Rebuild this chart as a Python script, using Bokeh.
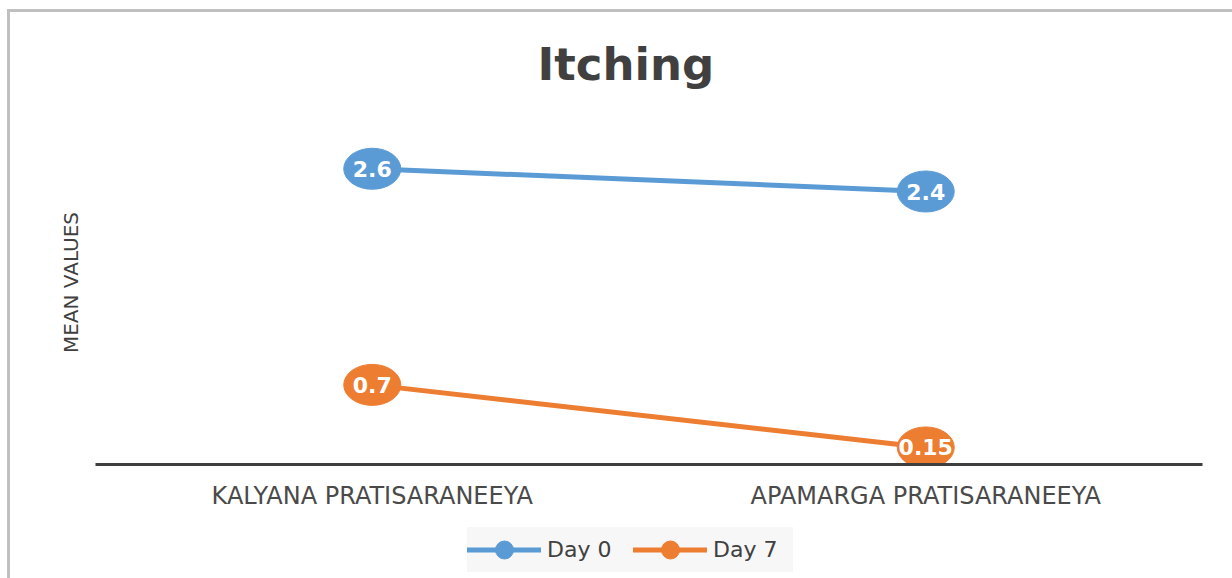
from bokeh.plotting import figure
from bokeh.layouts import column
from bokeh.models import (Range1d, FactorRange, Legend, LegendItem, ColumnDataSource,
                          Title, FixedTicker)
from bokeh.core.properties import value
from bokeh.embed import file_html
from bokeh.resources import INLINE

categories = ["KALYANA PRATISARANEEYA", "APAMARGA PRATISARANEEYA"]
day0 = [2.6, 2.4]
day7 = [0.7, 0.15]
series_names = ["Day 0", "Day 7"]
series_values = [day0, day7]
colors = ["#5B9BD5", "#ED7D31"]

xr = FactorRange(*categories)
p = figure(width=1222, height=512, x_range=xr, y_range=Range1d(0, 3.2),
           output_backend="svg", toolbar_location=None,
           min_border_left=85, min_border_right=30,
           min_border_bottom=60, min_border_top=88)

p.title = Title(text="Itching", align="left", text_font="DejaVu Sans",
                text_font_size="45px", text_font_style="bold", text_color="#404040",
                offset=442, standoff=20)

p.grid.visible = False
p.outline_line_color = None
p.background_fill_color = "white"
p.border_fill_color = "white"

# x axis
p.xaxis.axis_line_color = "#3f3f3f"
p.xaxis.axis_line_width = 3
p.xaxis.major_tick_line_color = None
p.xaxis.minor_tick_line_color = None
p.xaxis.major_tick_out = 0
p.xaxis.major_tick_in = 0
p.xaxis.major_label_text_font = "DejaVu Sans"
p.xaxis.major_label_text_font_size = "24px"
p.xaxis.major_label_text_color = "#4a4a4a"
p.xaxis.major_label_standoff = 17

# y axis
p.yaxis.ticker = FixedTicker(ticks=[])
p.yaxis.axis_line_color = None
p.yaxis.major_tick_line_color = None
p.yaxis.minor_tick_line_color = None
p.yaxis.major_tick_out = 0
p.yaxis.major_tick_in = 0
p.yaxis.major_label_standoff = 0
p.yaxis.axis_label = "MEAN VALUES"
p.yaxis.axis_label_text_font = "DejaVu Sans"
p.yaxis.axis_label_text_font_size = "20px"
p.yaxis.axis_label_text_font_style = "normal"
p.yaxis.axis_label_text_color = "#404040"
p.yaxis.axis_label_standoff = 13

# legend strip below the chart (its lines sit outside its visible range)
pl = figure(width=1222, height=54, x_range=xr, y_range=Range1d(10, 11),
            output_backend="svg", toolbar_location=None,
            x_axis_type=None, y_axis_type=None, min_border=0)
pl.grid.visible = False
pl.outline_line_color = None
pl.background_fill_color = "white"
pl.border_fill_color = "white"

items = []
for name, vals, col in zip(series_names, series_values, colors):
    src = ColumnDataSource(dict(x=categories, y=vals, t=[str(v) for v in vals]))
    p.line("x", "y", source=src, line_color=col, line_width=5, line_cap="round")
    p.scatter("x", "y", source=src, size=12, fill_color=col, line_color=col)
    p.ellipse("x", "y", source=src, width=57, height=41, width_units="screen",
              height_units="screen", fill_color=col, line_color=col)
    p.text("x", "y", text="t", source=src, text_color="white",
           text_font=value("DejaVu Sans"), text_font_style="bold", text_font_size="22px",
           text_align="center", text_baseline="middle")
    ln = pl.line("x", "y", source=src, line_color=col, line_width=5, line_cap="round")
    dot = pl.scatter("x", "y", source=src, size=12, fill_color=col, line_color=col)
    items.append(LegendItem(label=name, renderers=[ln, dot]))

legend = Legend(items=items, orientation="horizontal", location=(372, 6),
                background_fill_color="#f7f7f7", background_fill_alpha=1,
                border_line_color=None, glyph_width=74, glyph_height=45,
                label_text_font="DejaVu Sans", label_text_font_size="22px",
                label_text_color="#404040", spacing=6, padding=10, margin=0,
                label_standoff=6, label_width=80)
pl.add_layout(legend, "center")

layout = column(p, pl, spacing=0,
                styles={"margin-left": "7px", "margin-top": "9px",
                        "border-left": "3px solid #c0c0c0",
                        "border-top": "3px solid #c0c0c0"})

open("out.html", "w").write(file_html(layout, INLINE))
